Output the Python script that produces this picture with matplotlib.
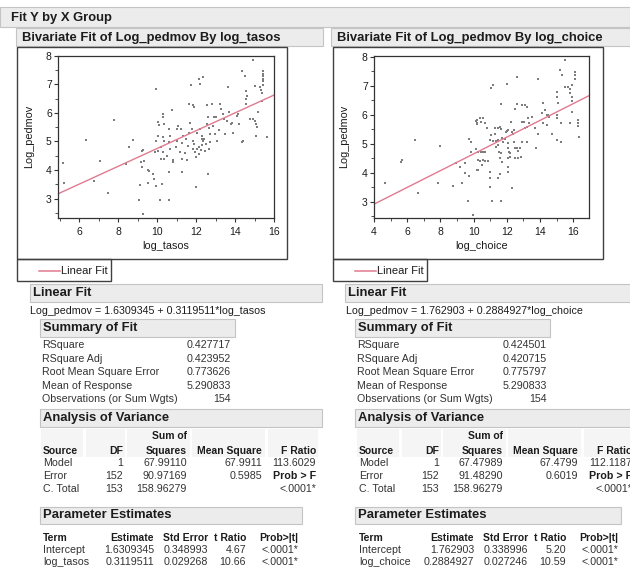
import numpy as np
import matplotlib
matplotlib.use("Agg")
from matplotlib import pyplot as plt
from matplotlib.patches import Rectangle
from matplotlib.lines import Line2D
from matplotlib.ticker import MultipleLocator

plt.rcParams['font.family'] = ['Liberation Sans', 'DejaVu Sans']

# ---- data ----
tasos_x = [5.19, 5.25, 6.34, 7.08, 6.79, 7.47, 7.81, 8.55, 8.77, 8.41, 9.25, 9.3, 9.18, 9.25, 9.35,
           9.52, 9.6, 9.13, 9.1, 9.3, 9.55, 9.81, 9.95, 10.04, 10.12, 10.04, 9.95, 10.04, 9.9, 9.87,
           9.95, 10.25, 10.15, 10.3, 10.2, 10.2, 10.32, 10.36, 10.32, 10.36, 10.29, 10.36, 10.6,
           10.63, 10.65, 10.6, 10.67, 10.75, 10.8, 10.83, 10.63, 11.0, 11.03, 10.98, 11.21, 11.27,
           11.35, 11.2, 11.27, 11.53, 11.5, 11.57, 11.62, 11.73, 11.66, 11.7, 11.79, 11.84, 11.87,
           11.9, 11.87, 11.95, 12.0, 12.05, 12.07, 12.0, 12.17, 12.37, 12.2, 12.2, 12.3, 12.17,
           12.23, 12.3, 12.35, 12.3, 12.4, 12.14, 12.55, 12.63, 12.55, 12.68, 12.7, 12.7, 12.68,
           12.63, 12.85, 12.9, 13.0, 12.95, 13.1, 13.23, 13.3, 13.4, 13.45, 13.5, 13.65, 13.7, 13.8,
           13.85, 14.08, 14.13, 14.2, 14.36, 14.34, 14.51, 14.56, 14.6, 14.56, 14.56, 14.77, 14.9,
           15.0, 15.1, 15.15, 15.1, 15.03, 15.2, 15.3, 15.35, 15.4, 15.45, 15.45, 15.45, 15.45,
           15.45, 15.45, 15.4, 11.1, 11.45, 11.9, 12.5, 12.45, 13.2, 13.6, 12.8, 11.3, 10.5, 14.43,
           14.94, 15.62, 13.9]
tasos_y = [4.25, 3.55, 5.04, 4.31, 3.6, 3.2, 5.74, 4.82, 5.04, 4.22, 4.67, 4.71, 4.28, 4.11, 4.3,
           3.99, 3.96, 3.47, 2.95, 2.45, 3.55, 3.87, 6.85, 5.68, 5.59, 5.2, 5.0, 4.66, 4.63, 3.7,
           3.43, 3.5, 2.95, 5.95, 4.8, 4.4, 5.86, 5.62, 5.16, 5.0, 4.63, 4.4, 2.95,
           5.45, 5.2, 4.97, 4.75, 6.09, 4.34, 4.28, 3.93, 5.45, 5.0, 4.8, 5.45, 4.95,
           5.2, 4.63, 3.93, 4.34, 5.1, 4.84, 5.3, 6.96, 6.3, 5.65, 5.45, 4.75, 6.28,
           6.2, 5.0, 4.63, 4.46, 5.3, 4.75, 3.4, 7.2, 7.26, 7.0, 5.45, 5.2, 4.8,
           4.7, 4.87, 5.0, 5.07, 5.1, 4.55, 6.27, 5.86, 5.6, 5.46, 5.25, 4.97, 4.75,
           3.85, 5.55, 5.86, 5.86, 5.25, 5.0, 6.32, 6.15, 5.97, 5.8, 5.25, 6.91, 6.03, 5.6,
           5.63, 5.9, 5.95, 5.6, 4.97, 7.45, 7.29, 6.75, 6.6, 6.5, 6.3, 5.8, 7.84,
           5.7, 5.6, 5.5, 5.2, 6.93, 6.03, 6.9, 6.8, 6.7, 7.45, 7.37, 7.29, 7.2,
           7.1, 6.96, 6.4, 5.55, 4.6, 4.9, 4.9, 4.65, 5.4, 5.7, 6.3, 4.4, 4.5, 5.0,
           5.8, 5.17, 5.3]

choice_x = [4.66, 5.67, 5.63, 6.47, 6.67, 7.98, 7.88, 8.78, 8.94, 9.28, 9.18, 9.5, 9.46, 9.74, 9.68,
            9.95, 9.74, 9.84, 9.86, 10.14, 10.18, 10.14, 10.2, 10.24, 10.18, 10.18, 10.38, 10.44,
            10.58, 10.68, 10.78, 10.28, 10.44, 10.52, 10.58, 10.68, 10.38, 10.58, 10.68, 10.84,
            10.48, 10.28, 10.98, 10.98, 10.98, 11.13, 11.65, 11.04, 11.19, 11.04, 11.29, 10.98,
            11.19, 11.33, 11.49, 11.29, 11.49, 11.33, 11.45, 11.59, 11.65, 11.69, 11.79, 11.89,
            11.53, 11.65, 11.59, 11.69, 11.59, 11.49, 11.65, 11.93, 11.99, 12.05, 11.99, 12.05,
            12.09, 12.15, 12.19, 12.09, 12.19, 12.05, 12.05, 12.33, 12.25, 12.33, 12.39, 12.45,
            12.49, 12.59, 12.59, 12.49, 12.59, 12.69, 12.79, 12.49, 12.69, 12.85, 12.45, 12.89,
            12.89, 13.1, 13.2, 12.89, 13.05, 13.1, 13.2, 13.3, 13.34, 13.2, 13.54, 13.7, 13.74,
            13.86, 13.9, 14.1, 14.2, 14.3, 14.4, 14.5, 14.54, 14.2, 14.4, 14.7, 15.0, 15.0, 15.07,
            15.0, 15.0, 15.21, 15.35, 15.27, 15.51, 15.51, 15.67, 15.81, 15.81, 15.91, 15.95,
            15.91, 16.11, 16.11, 16.11, 15.95, 15.81, 16.27, 16.27, 16.31, 16.35, 15.0, 15.24]
choice_y = [3.64, 4.44, 4.36, 5.13, 3.29, 4.92, 3.66, 3.55, 4.32, 3.64, 4.21, 4.32, 4.0, 3.87, 3.03,
            2.55, 5.16, 5.07, 4.73, 5.78, 5.67, 4.8, 4.1, 4.45, 5.81, 5.7, 5.87, 5.76,
            5.87, 5.7, 5.53, 4.72, 4.72, 4.72, 4.72, 4.72, 4.4, 4.44, 4.4, 4.4,
            4.27, 4.1, 4.04, 3.81, 3.52, 3.03, 3.03, 6.92, 7.01, 5.3, 5.32, 5.13,
            5.09, 5.09, 5.13, 5.53, 5.55, 4.9, 4.95, 5.58, 5.5, 5.18, 5.07, 5.16,
            4.72, 4.67, 4.5, 4.38, 3.95, 3.81, 6.35, 5.39, 5.43, 5.47, 7.04, 5.01,
            4.84, 4.72, 4.67, 4.5, 4.55, 4.21, 4.02, 3.47, 5.76, 5.41, 5.35, 5.47,
            6.21, 6.35, 7.3, 4.84, 4.86, 4.75, 4.86, 4.52, 4.5, 4.55, 5.07, 5.07,
            6.33, 6.33, 6.27, 5.73, 5.73, 5.53, 5.58, 5.87, 5.7, 5.07, 5.93, 5.55, 4.84,
            7.24, 5.35, 6.04, 6.39, 6.16, 5.98, 5.98, 5.93, 5.7, 5.66, 5.35, 6.79, 6.62, 6.39,
            5.98, 5.87, 7.53, 7.36, 5.07, 7.87, 6.96, 6.96, 6.9, 6.73, 6.61, 6.47,
            7.01, 7.47, 7.36, 7.24, 6.1, 5.7, 5.81, 5.7, 5.62, 5.24, 5.12, 5.71]

# fit results
tasos_b0, tasos_b1 = 1.6309345, 0.3119511
choice_b0, choice_b1 = 1.762903, 0.2884927

summary_labels = ["RSquare", "RSquare Adj", "Root Mean Square Error", "Mean of Response",
                  "Observations (or Sum Wgts)"]
tasos_summary = ["0.427717", "0.423952", "0.773626", "5.290833", "154"]
choice_summary = ["0.424501", "0.420715", "0.775797", "5.290833", "154"]

aov_source = ["Model", "Error", "C. Total"]
aov_df = ["1", "152", "153"]
tasos_ss = ["67.99110", "90.97169", "158.96279"]
tasos_ms = ["67.9911", "0.5985", ""]
tasos_f = ["113.6029", "Prob > F", "<.0001*"]
choice_ss = ["67.47989", "91.48290", "158.96279"]
choice_ms = ["67.4799", "0.6019", ""]
choice_f = ["112.1187", "Prob > F", "<.0001*"]

tasos_terms = ["Intercept", "log_tasos"]
tasos_est = ["1.6309345", "0.3119511"]
tasos_se = ["0.348993", "0.029268"]
tasos_t = ["4.67", "10.66"]
choice_terms = ["Intercept", "log_choice"]
choice_est = ["1.762903", "0.2884927"]
choice_se = ["0.338996", "0.027246"]
choice_t = ["5.20", "10.59"]
pvals = ["<.0001*", "<.0001*"]

W, H = 630, 575
fig = plt.figure(figsize=(W / 100, H / 100), dpi=100)
fig.patch.set_facecolor('white')

dark = '#1c1c1c'
body = '#333333'
fitcol = '#e07a90'


def fx(x):
    return x / W


def fy(y):
    return 1 - y / H


def box(x0, y0, x1, y1, fc='#ececec', ec='#c4c4c4', lw=0.8):
    fig.add_artist(Rectangle((fx(x0), fy(y1)), (x1 - x0) / W, (y1 - y0) / H,
                             transform=fig.transFigure, facecolor=fc, edgecolor=ec, lw=lw))


def txt(x, y, s, size=7.5, ha='left', bold=False, color=body, **kw):
    fig.text(fx(x), fy(y), s, fontsize=size, ha=ha, va='center',
             fontweight='bold' if bold else 'normal', color=color, **kw)


# top group bar
box(0, 7, 630, 27)
txt(11, 17.5, "Fit Y by X Group", size=9.4, bold=True, color=dark)


def panel(xs, ys, b0, b1, xname, xlim, ylim, xmaj0, L, summ, ss, ms, fr, terms, est, se, tr):
    # header
    box(*L['head'])
    txt(L['head'][0] + 6, 37.5, "Bivariate Fit of Log_pedmov By " + xname, size=9.4, bold=True, color=dark)
    # frames
    box(*L['frame'], fc='none', ec='#404040', lw=1)
    box(*L['legend'], fc='none', ec='#404040', lw=1)
    lx0, lx1 = L['legline']
    fig.add_artist(Line2D([fx(lx0), fx(lx1)], [fy(271), fy(271)], transform=fig.transFigure,
                          color=fitcol, lw=1.1))
    txt(lx1 + 1, 271, "Linear Fit", size=8, color=dark)

    a0, b0y, a1, b1y = L['axes']
    ax = fig.add_axes([fx(a0), fy(b1y), (a1 - a0) / W, (b1y - b0y) / H])
    ax.scatter(xs, ys, s=3, c='#7d7d7d', marker='s', linewidths=0)
    lim = np.array(xlim)
    ax.plot(lim, b0 + b1 * lim, color=fitcol, lw=1)
    ax.set_xlim(*xlim)
    ax.set_ylim(*ylim)
    ax.xaxis.set_minor_locator(MultipleLocator(1))
    ax.yaxis.set_major_locator(MultipleLocator(1))
    ax.yaxis.set_minor_locator(MultipleLocator(0.5))
    ax.set_xticks(np.arange(xmaj0, 17, 2))
    ax.tick_params(which='major', length=3, width=0.8, colors='#333333', labelsize=7.5,
                   labelcolor=dark)
    ax.tick_params(which='minor', length=2, width=0.6, colors='#333333')
    ax.tick_params(axis='x', pad=3.5)
    ax.tick_params(axis='y', pad=1.5)
    for s in ax.spines.values():
        s.set_color('#333333')
        s.set_linewidth(0.9)
    fig.text(fx(L['ylab']), fy((b0y + b1y) / 2), "Log_pedmov", rotation=90, fontsize=7.8,
             ha='center', va='center', color=dark)
    txt((a0 + a1) / 2, 246, xname, size=7.8, ha='center', color=dark)

    # Linear Fit
    box(*L['lf'])
    txt(L['lf'][0] + 3, 293.5, "Linear Fit", size=9.4, bold=True, color=dark)
    txt(L['eq'], 311, "Log_pedmov = %s + %s*%s" % (b0, b1, xname), size=7.7, color=dark)

    # Summary of Fit
    box(*L['sum'])
    txt(L['sum'][0] + 3, 328, "Summary of Fit", size=9.4, bold=True, color=dark)
    for i, (lab, val) in enumerate(zip(summary_labels, summ)):
        yy = 345.5 + i * 13.4
        txt(L['sum'][0] + 2, yy, lab, size=7.7)
        txt(L['sumval'], yy, val, size=7.7, ha='right')

    # Analysis of Variance
    box(*L['aov'])
    txt(L['aov'][0] + 3, 418, "Analysis of Variance", size=9.4, bold=True, color=dark)
    c = L['aovcols']
    # faint header cells
    cell_l = [c[0] - 2, c[1] - 37, c[2] - 60, c[3] - 70, c[4] - 48]
    cell_r = [c[1] - 40, c[1] + 2, c[2] + 3, c[3] + 3, c[4] + 2]
    for l, r in zip(cell_l, cell_r):
        box(l, 429, r, 457, fc='#f5f5f5', ec='none', lw=0)
    txt(c[0], 451, "Source", bold=True, color=dark)
    txt(c[1], 451, "DF", bold=True, color=dark, ha='right')
    txt(c[2], 436, "Sum of", bold=True, color=dark, ha='right')
    txt(c[2], 451, "Squares", bold=True, color=dark, ha='right')
    txt(c[3], 451, "Mean Square", bold=True, color=dark, ha='right')
    txt(c[4], 451, "F Ratio", bold=True, color=dark, ha='right')
    for i in range(3):
        yy = 463 + i * 12.8
        txt(c[0], yy, aov_source[i], size=7.7)
        txt(c[1], yy, aov_df[i], ha='right', size=7.7)
        txt(c[2], yy, ss[i], ha='right', size=7.7)
        txt(c[3], yy, ms[i], ha='right', size=7.7)
        txt(c[4], yy, fr[i], ha='right', bold=(fr[i] == "Prob > F"), size=7.7,
            color=dark if fr[i] == "Prob > F" else body)

    # Parameter Estimates
    box(*L['pe'])
    txt(L['pe'][0] + 3, 515.5, "Parameter Estimates", size=9.4, bold=True, color=dark)
    p = L['pecols']
    heads = ["Estimate", "Std Error", "t Ratio", "Prob>|t|"]
    txt(p[0], 538, "Term", bold=True, color=dark)
    for k, hd in enumerate(heads):
        txt(p[k + 1], 538, hd, bold=True, color=dark, ha='right')
    for i in range(2):
        yy = 550 + i * 12
        txt(p[0], yy, terms[i], size=7.7)
        txt(p[1], yy, est[i], ha='right', size=7.7)
        txt(p[2], yy, se[i], ha='right', size=7.7)
        txt(p[3], yy, tr[i], ha='right', size=7.7)
        txt(p[4], yy, pvals[i], ha='right', size=7.7)
    return ax


left_layout = dict(head=(16, 28, 323, 46), frame=(17.3, 47.3, 286.7, 259), legend=(17.3, 259, 111, 280.7),
                   legline=(39, 60), axes=(58, 55.7, 274, 217.7), ylab=29,
                   lf=(30, 284, 322, 302), eq=30, sum=(40, 319, 235, 337), sumval=231,
                   aov=(40, 409, 322, 427), aovcols=(43, 123, 187, 262, 316),
                   pe=(40, 507, 302, 524), pecols=(43, 154, 208, 246, 298))
right_layout = dict(head=(331, 28, 640, 46), frame=(333.3, 47.3, 602.7, 259), legend=(333.3, 259, 426.7, 280.7),
                    legline=(355, 376), axes=(374, 55.7, 589, 217.7), ylab=344,
                    lf=(345, 284, 640, 302), eq=346, sum=(355, 319, 550, 337), sumval=546.7,
                    aov=(355, 409, 640, 427), aovcols=(359, 439, 503, 578, 632),
                    pe=(355, 507, 621, 524), pecols=(359, 474, 528, 566, 618))

panel(tasos_x, tasos_y, tasos_b0, tasos_b1, "log_tasos", (4.92, 16.0), (2.33, 8.0), 6,
      left_layout, tasos_summary, tasos_ss, tasos_ms, tasos_f, tasos_terms, tasos_est, tasos_se, tasos_t)
panel(choice_x, choice_y, choice_b0, choice_b1, "log_choice", (4.0, 16.95), (2.45, 8.03), 4,
      right_layout, choice_summary, choice_ss, choice_ms, choice_f, choice_terms, choice_est, choice_se, choice_t)

plt.savefig('out.png', dpi=100)
